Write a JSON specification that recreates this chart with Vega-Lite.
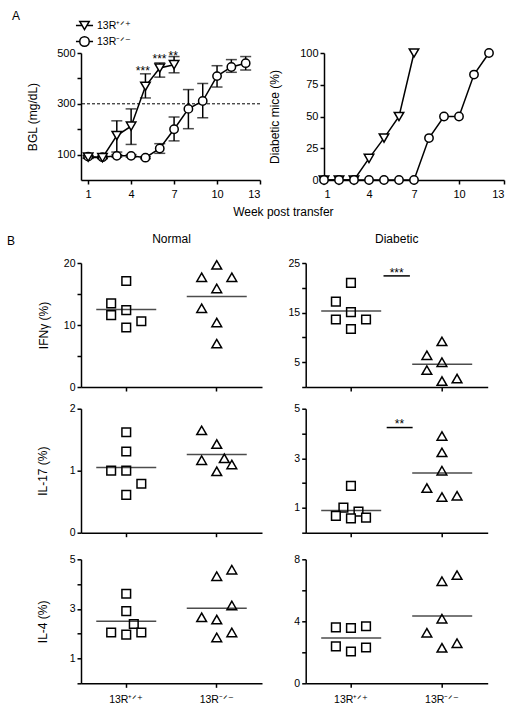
{
 "$schema": "https://vega.github.io/schema/vega-lite/v6.json",
 "background": "white",
 "padding": {"left": 7, "top": 10, "right": 5, "bottom": 5},
 "config": {
  "font": "Liberation Sans",
  "view": {"stroke": null},
  "axis": {"domainColor": "black", "domainWidth": 1.5, "tickColor": "black", "tickWidth": 1.5, "tickSize": 4, "labelColor": "black", "labelFontSize": 10.5, "labelPadding": 2, "labelOverlap": false, "titleColor": "black", "titleFontSize": 12, "titleFontWeight": "normal", "grid": false, "zindex": 0},
  "title": {"fontSize": 12, "fontWeight": "normal", "color": "black"},
  "legend": {"labelColor": "black"}
 },
 "datasets": {
  "bgl": [
   {"strain": "13R⁻ᐟ⁻", "week": 1, "bgl": 92, "lo": 87, "hi": 97},
   {"strain": "13R⁻ᐟ⁻", "week": 2, "bgl": 90, "lo": 86, "hi": 94},
   {"strain": "13R⁻ᐟ⁻", "week": 3, "bgl": 95, "lo": 90, "hi": 100},
   {"strain": "13R⁻ᐟ⁻", "week": 4, "bgl": 95, "lo": 90, "hi": 100},
   {"strain": "13R⁻ᐟ⁻", "week": 5, "bgl": 88, "lo": 84, "hi": 92},
   {"strain": "13R⁻ᐟ⁻", "week": 6, "bgl": 124, "lo": 105, "hi": 143},
   {"strain": "13R⁻ᐟ⁻", "week": 7, "bgl": 200, "lo": 154, "hi": 248},
   {"strain": "13R⁻ᐟ⁻", "week": 8, "bgl": 280, "lo": 202, "hi": 356},
   {"strain": "13R⁻ᐟ⁻", "week": 9, "bgl": 311, "lo": 245, "hi": 380},
   {"strain": "13R⁻ᐟ⁻", "week": 10, "bgl": 409, "lo": 366, "hi": 450},
   {"strain": "13R⁻ᐟ⁻", "week": 11, "bgl": 445, "lo": 424, "hi": 474},
   {"strain": "13R⁻ᐟ⁻", "week": 12, "bgl": 460, "lo": 433, "hi": 486},
   {"strain": "13R⁺ᐟ⁺", "week": 1, "bgl": 90, "lo": 85, "hi": 95},
   {"strain": "13R⁺ᐟ⁺", "week": 2, "bgl": 88, "lo": 84, "hi": 92},
   {"strain": "13R⁺ᐟ⁺", "week": 3, "bgl": 175, "lo": 110, "hi": 233},
   {"strain": "13R⁺ᐟ⁺", "week": 4, "bgl": 212, "lo": 140, "hi": 280},
   {"strain": "13R⁺ᐟ⁺", "week": 5, "bgl": 369, "lo": 323, "hi": 418},
   {"strain": "13R⁺ᐟ⁺", "week": 6, "bgl": 441, "lo": 405, "hi": 461},
   {"strain": "13R⁺ᐟ⁺", "week": 7, "bgl": 454, "lo": 422, "hi": 486}
  ],
  "dm": [
   {"strain": "13R⁺ᐟ⁺", "week": 1, "pct": 0},
   {"strain": "13R⁺ᐟ⁺", "week": 2, "pct": 0},
   {"strain": "13R⁺ᐟ⁺", "week": 3, "pct": 0},
   {"strain": "13R⁺ᐟ⁺", "week": 4, "pct": 17},
   {"strain": "13R⁺ᐟ⁺", "week": 5, "pct": 33},
   {"strain": "13R⁺ᐟ⁺", "week": 6, "pct": 50},
   {"strain": "13R⁺ᐟ⁺", "week": 7, "pct": 100},
   {"strain": "13R⁻ᐟ⁻", "week": 1, "pct": 0},
   {"strain": "13R⁻ᐟ⁻", "week": 2, "pct": 0},
   {"strain": "13R⁻ᐟ⁻", "week": 3, "pct": 0},
   {"strain": "13R⁻ᐟ⁻", "week": 4, "pct": 0},
   {"strain": "13R⁻ᐟ⁻", "week": 5, "pct": 0},
   {"strain": "13R⁻ᐟ⁻", "week": 6, "pct": 0},
   {"strain": "13R⁻ᐟ⁻", "week": 7, "pct": 0},
   {"strain": "13R⁻ᐟ⁻", "week": 8, "pct": 33},
   {"strain": "13R⁻ᐟ⁻", "week": 9, "pct": 50},
   {"strain": "13R⁻ᐟ⁻", "week": 10, "pct": 50},
   {"strain": "13R⁻ᐟ⁻", "week": 11, "pct": 83},
   {"strain": "13R⁻ᐟ⁻", "week": 12, "pct": 100}
  ],
  "starsA": [
   {"week": 4.82, "y": 428, "t": "***"},
   {"week": 5.98, "y": 476, "t": "***"},
   {"week": 6.94, "y": 487, "t": "**"}
  ],
  "cells": [
   {"cyto": "IFNγ", "cond": "Normal", "group": "13R⁺ᐟ⁺", "slot": 0, "value": 17.1},
   {"cyto": "IFNγ", "cond": "Normal", "group": "13R⁺ᐟ⁺", "slot": -2, "value": 13.5},
   {"cyto": "IFNγ", "cond": "Normal", "group": "13R⁺ᐟ⁺", "slot": -2, "value": 11.6},
   {"cyto": "IFNγ", "cond": "Normal", "group": "13R⁺ᐟ⁺", "slot": 0, "value": 12.4},
   {"cyto": "IFNγ", "cond": "Normal", "group": "13R⁺ᐟ⁺", "slot": 0, "value": 9.6},
   {"cyto": "IFNγ", "cond": "Normal", "group": "13R⁺ᐟ⁺", "slot": 2, "value": 10.6},
   {"cyto": "IFNγ", "cond": "Normal", "group": "13R⁻ᐟ⁻", "slot": 0, "value": 19.7},
   {"cyto": "IFNγ", "cond": "Normal", "group": "13R⁻ᐟ⁻", "slot": -2, "value": 17.7},
   {"cyto": "IFNγ", "cond": "Normal", "group": "13R⁻ᐟ⁻", "slot": 2, "value": 17.7},
   {"cyto": "IFNγ", "cond": "Normal", "group": "13R⁻ᐟ⁻", "slot": 0, "value": 15.9},
   {"cyto": "IFNγ", "cond": "Normal", "group": "13R⁻ᐟ⁻", "slot": -2, "value": 12.7},
   {"cyto": "IFNγ", "cond": "Normal", "group": "13R⁻ᐟ⁻", "slot": 0, "value": 10.4},
   {"cyto": "IFNγ", "cond": "Normal", "group": "13R⁻ᐟ⁻", "slot": 0, "value": 7.0},
   {"cyto": "IFNγ", "cond": "Diabetic", "group": "13R⁺ᐟ⁺", "slot": 0, "value": 21.0},
   {"cyto": "IFNγ", "cond": "Diabetic", "group": "13R⁺ᐟ⁺", "slot": -2, "value": 17.2},
   {"cyto": "IFNγ", "cond": "Diabetic", "group": "13R⁺ᐟ⁺", "slot": 0, "value": 15.1},
   {"cyto": "IFNγ", "cond": "Diabetic", "group": "13R⁺ᐟ⁺", "slot": -2, "value": 13.6},
   {"cyto": "IFNγ", "cond": "Diabetic", "group": "13R⁺ᐟ⁺", "slot": 2, "value": 13.6},
   {"cyto": "IFNγ", "cond": "Diabetic", "group": "13R⁺ᐟ⁺", "slot": 0, "value": 11.7},
   {"cyto": "IFNγ", "cond": "Diabetic", "group": "13R⁻ᐟ⁻", "slot": 0, "value": 9.2},
   {"cyto": "IFNγ", "cond": "Diabetic", "group": "13R⁻ᐟ⁻", "slot": -2, "value": 6.4},
   {"cyto": "IFNγ", "cond": "Diabetic", "group": "13R⁻ᐟ⁻", "slot": 0, "value": 5.0},
   {"cyto": "IFNγ", "cond": "Diabetic", "group": "13R⁻ᐟ⁻", "slot": -2, "value": 3.4},
   {"cyto": "IFNγ", "cond": "Diabetic", "group": "13R⁻ᐟ⁻", "slot": 0, "value": 1.2},
   {"cyto": "IFNγ", "cond": "Diabetic", "group": "13R⁻ᐟ⁻", "slot": 2, "value": 1.7},
   {"cyto": "IL-17", "cond": "Normal", "group": "13R⁺ᐟ⁺", "slot": 0, "value": 1.62},
   {"cyto": "IL-17", "cond": "Normal", "group": "13R⁺ᐟ⁺", "slot": 0, "value": 1.31},
   {"cyto": "IL-17", "cond": "Normal", "group": "13R⁺ᐟ⁺", "slot": -2, "value": 1.0},
   {"cyto": "IL-17", "cond": "Normal", "group": "13R⁺ᐟ⁺", "slot": 0, "value": 1.0},
   {"cyto": "IL-17", "cond": "Normal", "group": "13R⁺ᐟ⁺", "slot": 2, "value": 0.79},
   {"cyto": "IL-17", "cond": "Normal", "group": "13R⁺ᐟ⁺", "slot": 0, "value": 0.61},
   {"cyto": "IL-17", "cond": "Normal", "group": "13R⁻ᐟ⁻", "slot": -2, "value": 1.65},
   {"cyto": "IL-17", "cond": "Normal", "group": "13R⁻ᐟ⁻", "slot": 0, "value": 1.43},
   {"cyto": "IL-17", "cond": "Normal", "group": "13R⁻ᐟ⁻", "slot": -2, "value": 1.17},
   {"cyto": "IL-17", "cond": "Normal", "group": "13R⁻ᐟ⁻", "slot": 1, "value": 1.2},
   {"cyto": "IL-17", "cond": "Normal", "group": "13R⁻ᐟ⁻", "slot": 2, "value": 1.1},
   {"cyto": "IL-17", "cond": "Normal", "group": "13R⁻ᐟ⁻", "slot": 0, "value": 0.99},
   {"cyto": "IL-17", "cond": "Diabetic", "group": "13R⁺ᐟ⁺", "slot": 0, "value": 1.89},
   {"cyto": "IL-17", "cond": "Diabetic", "group": "13R⁺ᐟ⁺", "slot": -1, "value": 1.01},
   {"cyto": "IL-17", "cond": "Diabetic", "group": "13R⁺ᐟ⁺", "slot": 1, "value": 0.85},
   {"cyto": "IL-17", "cond": "Diabetic", "group": "13R⁺ᐟ⁺", "slot": -2, "value": 0.68},
   {"cyto": "IL-17", "cond": "Diabetic", "group": "13R⁺ᐟ⁺", "slot": 0, "value": 0.58},
   {"cyto": "IL-17", "cond": "Diabetic", "group": "13R⁺ᐟ⁺", "slot": 2, "value": 0.61},
   {"cyto": "IL-17", "cond": "Diabetic", "group": "13R⁻ᐟ⁻", "slot": 0, "value": 3.9},
   {"cyto": "IL-17", "cond": "Diabetic", "group": "13R⁻ᐟ⁻", "slot": 0, "value": 3.24},
   {"cyto": "IL-17", "cond": "Diabetic", "group": "13R⁻ᐟ⁻", "slot": 0, "value": 2.5},
   {"cyto": "IL-17", "cond": "Diabetic", "group": "13R⁻ᐟ⁻", "slot": -2, "value": 1.8},
   {"cyto": "IL-17", "cond": "Diabetic", "group": "13R⁻ᐟ⁻", "slot": 0, "value": 1.44},
   {"cyto": "IL-17", "cond": "Diabetic", "group": "13R⁻ᐟ⁻", "slot": 2, "value": 1.49},
   {"cyto": "IL-4", "cond": "Normal", "group": "13R⁺ᐟ⁺", "slot": 0, "value": 3.61},
   {"cyto": "IL-4", "cond": "Normal", "group": "13R⁺ᐟ⁺", "slot": 0, "value": 2.91},
   {"cyto": "IL-4", "cond": "Normal", "group": "13R⁺ᐟ⁺", "slot": -2, "value": 2.05},
   {"cyto": "IL-4", "cond": "Normal", "group": "13R⁺ᐟ⁺", "slot": 1, "value": 2.39},
   {"cyto": "IL-4", "cond": "Normal", "group": "13R⁺ᐟ⁺", "slot": 0, "value": 1.96},
   {"cyto": "IL-4", "cond": "Normal", "group": "13R⁺ᐟ⁺", "slot": 2, "value": 2.05},
   {"cyto": "IL-4", "cond": "Normal", "group": "13R⁻ᐟ⁻", "slot": 2, "value": 4.58},
   {"cyto": "IL-4", "cond": "Normal", "group": "13R⁻ᐟ⁻", "slot": 0, "value": 4.32},
   {"cyto": "IL-4", "cond": "Normal", "group": "13R⁻ᐟ⁻", "slot": 2, "value": 3.14},
   {"cyto": "IL-4", "cond": "Normal", "group": "13R⁻ᐟ⁻", "slot": -2, "value": 2.66},
   {"cyto": "IL-4", "cond": "Normal", "group": "13R⁻ᐟ⁻", "slot": 0, "value": 2.57},
   {"cyto": "IL-4", "cond": "Normal", "group": "13R⁻ᐟ⁻", "slot": 2, "value": 2.05},
   {"cyto": "IL-4", "cond": "Normal", "group": "13R⁻ᐟ⁻", "slot": 0, "value": 1.85},
   {"cyto": "IL-4", "cond": "Diabetic", "group": "13R⁺ᐟ⁺", "slot": -2, "value": 3.61},
   {"cyto": "IL-4", "cond": "Diabetic", "group": "13R⁺ᐟ⁺", "slot": 0, "value": 3.57},
   {"cyto": "IL-4", "cond": "Diabetic", "group": "13R⁺ᐟ⁺", "slot": 2, "value": 3.68},
   {"cyto": "IL-4", "cond": "Diabetic", "group": "13R⁺ᐟ⁺", "slot": -2, "value": 2.38},
   {"cyto": "IL-4", "cond": "Diabetic", "group": "13R⁺ᐟ⁺", "slot": 0, "value": 2.05},
   {"cyto": "IL-4", "cond": "Diabetic", "group": "13R⁺ᐟ⁺", "slot": 2, "value": 2.31},
   {"cyto": "IL-4", "cond": "Diabetic", "group": "13R⁻ᐟ⁻", "slot": 2, "value": 6.98},
   {"cyto": "IL-4", "cond": "Diabetic", "group": "13R⁻ᐟ⁻", "slot": 0, "value": 6.59},
   {"cyto": "IL-4", "cond": "Diabetic", "group": "13R⁻ᐟ⁻", "slot": 0, "value": 4.17},
   {"cyto": "IL-4", "cond": "Diabetic", "group": "13R⁻ᐟ⁻", "slot": -2, "value": 3.26},
   {"cyto": "IL-4", "cond": "Diabetic", "group": "13R⁻ᐟ⁻", "slot": 0, "value": 2.29},
   {"cyto": "IL-4", "cond": "Diabetic", "group": "13R⁻ᐟ⁻", "slot": 2, "value": 2.59}
  ],
  "med": [
   {"cyto": "IFNγ", "cond": "Normal", "group": "13R⁺ᐟ⁺", "value": 12.5},
   {"cyto": "IFNγ", "cond": "Normal", "group": "13R⁻ᐟ⁻", "value": 14.6},
   {"cyto": "IFNγ", "cond": "Diabetic", "group": "13R⁺ᐟ⁺", "value": 15.3},
   {"cyto": "IFNγ", "cond": "Diabetic", "group": "13R⁻ᐟ⁻", "value": 4.6},
   {"cyto": "IL-17", "cond": "Normal", "group": "13R⁺ᐟ⁺", "value": 1.05},
   {"cyto": "IL-17", "cond": "Normal", "group": "13R⁻ᐟ⁻", "value": 1.26},
   {"cyto": "IL-17", "cond": "Diabetic", "group": "13R⁺ᐟ⁺", "value": 0.9},
   {"cyto": "IL-17", "cond": "Diabetic", "group": "13R⁻ᐟ⁻", "value": 2.41},
   {"cyto": "IL-4", "cond": "Normal", "group": "13R⁺ᐟ⁺", "value": 2.5},
   {"cyto": "IL-4", "cond": "Normal", "group": "13R⁻ᐟ⁻", "value": 3.03},
   {"cyto": "IL-4", "cond": "Diabetic", "group": "13R⁺ᐟ⁺", "value": 2.92},
   {"cyto": "IL-4", "cond": "Diabetic", "group": "13R⁻ᐟ⁻", "value": 4.35}
  ],
  "sig": [
   {"cyto": "IFNγ", "y": 22.4, "ty": 23.0, "t": "***"},
   {"cyto": "IL-17", "y": 4.24, "ty": 4.4, "t": "**"}
  ]
 },
 "resolve": {"scale": {"shape": "independent", "size": "independent"}, "legend": {"shape": "independent", "size": "independent"}},
 "spacing": 14,
 "vconcat": [
  {
   "bounds": "flush",
   "spacing": 64,
   "resolve": {"scale": {"shape": "independent"}, "legend": {"shape": "independent"}},
   "title": {"text": "Week post transfer", "orient": "bottom", "anchor": "middle", "fontSize": 12, "dx": 25, "offset": 8},
   "hconcat": [
    {
     "width": 179, "height": 127,
     "title": {"text": "A", "anchor": "start", "frame": "group", "dx": -69, "offset": -3, "fontSize": 12},
     "layer": [
      {"data": {"values": [{"thr": 300}]},
       "mark": {"type": "rule", "strokeDash": [3, 2], "strokeWidth": 1, "color": "black"},
       "encoding": {"y": {"field": "thr", "type": "quantitative", "scale": {"domain": [0, 500], "nice": false}, "axis": {"title": "BGL (mg/dL)", "values": [100, 200, 300, 400, 500], "tickCount": 20, "labelExpr": "datum.value % 200 == 100 ? format(datum.value, 'd') : ''", "titlePadding": 17, "labelFontSize": 11}}}},
      {"data": {"name": "bgl"},
       "mark": {"type": "rule", "strokeWidth": 1.5, "color": "black"},
       "encoding": {"x": {"field": "week", "type": "quantitative", "scale": {"domain": [0.5, 13], "nice": false, "zero": false}, "axis": {"values": [1, 4, 7, 10, 13], "tickCount": 20, "labelExpr": "format(datum.value, 'd')", "title": null, "labelFontSize": 11, "labelPadding": 4}}, "y": {"field": "lo", "type": "quantitative"}, "y2": {"field": "hi"}}},
      {"data": {"name": "bgl"},
       "mark": {"type": "tick", "orient": "horizontal", "size": 11, "thickness": 1.5, "color": "black"},
       "encoding": {"x": {"field": "week", "type": "quantitative"}, "y": {"field": "hi", "type": "quantitative"}}},
      {"data": {"name": "bgl"},
       "mark": {"type": "tick", "orient": "horizontal", "size": 11, "thickness": 1.5, "color": "black"},
       "encoding": {"x": {"field": "week", "type": "quantitative"}, "y": {"field": "lo", "type": "quantitative"}}},
      {"data": {"name": "bgl"},
       "mark": {"type": "line", "color": "black", "strokeWidth": 1.5},
       "encoding": {"x": {"field": "week", "type": "quantitative"}, "y": {"field": "bgl", "type": "quantitative"}, "detail": {"field": "strain", "type": "nominal"}}},
      {"data": {"name": "bgl"}, "transform": [{"filter": "datum.strain == '13R⁻ᐟ⁻'"}],
       "mark": {"type": "point", "shape": "circle", "filled": true, "fill": "white", "stroke": "black", "strokeWidth": 1.5, "opacity": 1, "size": 70},
       "encoding": {"x": {"field": "week", "type": "quantitative"}, "y": {"field": "bgl", "type": "quantitative"}}},
      {"data": {"name": "bgl"}, "transform": [{"filter": "datum.strain == '13R⁺ᐟ⁺'"}],
       "mark": {"type": "point", "shape": "triangle-down", "filled": true, "fill": "white", "stroke": "black", "strokeWidth": 1.5, "opacity": 1, "size": 90},
       "encoding": {"x": {"field": "week", "type": "quantitative"}, "y": {"field": "bgl", "type": "quantitative"}}},
      {"data": {"name": "bgl"},
       "mark": {"type": "point", "filled": false, "color": "black", "strokeWidth": 1.5, "opacity": 0},
       "encoding": {
        "x": {"field": "week", "type": "quantitative"},
        "y": {"field": "bgl", "type": "quantitative"},
        "shape": {"field": "strain", "type": "nominal", "sort": null, "scale": {"domain": ["13R⁺ᐟ⁺", "13R⁻ᐟ⁻"], "range": ["M-1,-0.866L1,-0.866L0,0.866Z M-1.8,0L-0.5,0 M0.5,0L1.8,0", "M-1.8,0L-1,0 M1,0L1.8,0 M1,0A1,1,0,1,1,-1,0A1,1,0,1,1,1,0Z"]},
         "legend": {"orient": "none", "legendX": -2, "legendY": -33, "title": null, "labelFontSize": 10.5, "labelOffset": 7, "rowPadding": 0, "padding": 0, "symbolSize": 90, "symbolStrokeWidth": 1.5, "symbolStrokeColor": "black", "symbolFillColor": "white", "symbolOpacity": 1}}
       }},
      {"data": {"name": "starsA"},
       "mark": {"type": "text", "fontSize": 12, "baseline": "middle", "color": "black"},
       "encoding": {"x": {"field": "week", "type": "quantitative"}, "y": {"field": "y", "type": "quantitative"}, "text": {"field": "t"}}}
     ]
    },
    {
     "width": 180, "height": 127,
     "layer": [
      {"data": {"name": "dm"},
       "mark": {"type": "line", "color": "black", "strokeWidth": 1.5},
       "encoding": {"x": {"field": "week", "type": "quantitative", "scale": {"domain": [1, 13], "nice": false, "zero": false}, "axis": {"values": [1, 4, 7, 10, 13], "tickCount": 20, "labelExpr": "format(datum.value, 'd')", "title": null, "labelFontSize": 11, "labelPadding": 4}},
        "y": {"field": "pct", "type": "quantitative", "scale": {"domain": [0, 100], "nice": false}, "axis": {"values": [0, 25, 50, 75, 100], "tickCount": 20, "labelExpr": "format(datum.value, 'd')", "title": "Diabetic mice (%)", "titlePadding": 18, "labelFontSize": 11}},
        "detail": {"field": "strain", "type": "nominal"}}},
      {"data": {"name": "dm"}, "transform": [{"filter": "datum.strain == '13R⁺ᐟ⁺'"}],
       "mark": {"type": "point", "shape": "triangle-down", "filled": true, "fill": "white", "stroke": "black", "strokeWidth": 1.5, "opacity": 1, "size": 90},
       "encoding": {"x": {"field": "week", "type": "quantitative"}, "y": {"field": "pct", "type": "quantitative"}}},
      {"data": {"name": "dm"}, "transform": [{"filter": "datum.strain == '13R⁻ᐟ⁻'"}],
       "mark": {"type": "point", "shape": "circle", "filled": true, "fill": "white", "stroke": "black", "strokeWidth": 1.5, "opacity": 1, "size": 70},
       "encoding": {"x": {"field": "week", "type": "quantitative"}, "y": {"field": "pct", "type": "quantitative"}}}
     ]
    }
   ]
  },
  {
   "title": {"text": "B", "anchor": "start", "frame": "group", "dx": -74, "offset": -15, "fontSize": 12},
   "spacing": 10.7,
   "vconcat": [
    {
     "bounds": "flush",
     "spacing": 43.7,
     "hconcat": [
      {
       "width": 181, "height": 124,
       "title": {"text": "Normal", "offset": 11.7},
       "layer": [
        {"data": {"name": "cells"}, "transform": [{"filter": "datum.cyto == 'IFNγ' && datum.cond == 'Normal'"}],
         "mark": {"type": "point", "filled": true, "fill": "white", "stroke": "black", "strokeWidth": 1.5, "opacity": 1},
         "encoding": {
          "x": {"field": "group", "type": "nominal", "scale": {"type": "band", "domain": ["13R⁺ᐟ⁺", "13R⁻ᐟ⁻"], "paddingInner": 0, "paddingOuter": 0}, "axis": {"title": null, "labels": false}},
          "xOffset": {"field": "slot", "type": "nominal", "scale": {"domain": [-6, -5, -4, -3, -2, -1, 0, 1, 2, 3, 4, 5, 6], "paddingInner": 0, "paddingOuter": 0}},
          "y": {"field": "value", "type": "quantitative", "scale": {"domain": [0, 20], "nice": false}, "axis": {"title": "IFNγ (%)", "values": [0, 5, 10, 15, 20], "tickCount": 20, "labelExpr": "datum.value % 10 == 0 ? format(datum.value, 'd') : ''", "titlePadding": 13.3}},
          "shape": {"field": "group", "type": "nominal", "scale": {"domain": ["13R⁺ᐟ⁺", "13R⁻ᐟ⁻"], "range": ["square", "triangle-up"]}, "legend": null},
          "size": {"field": "group", "type": "ordinal", "scale": {"domain": ["13R⁺ᐟ⁺", "13R⁻ᐟ⁻"], "range": [75, 95]}, "legend": null}
         }},
        {"data": {"name": "med"}, "transform": [{"filter": "datum.cyto == 'IFNγ' && datum.cond == 'Normal'"}],
         "mark": {"type": "tick", "orient": "horizontal", "size": 60, "thickness": 1.5, "color": "black"},
         "encoding": {"x": {"field": "group", "type": "nominal"}, "y": {"field": "value", "type": "quantitative"}}}
       ]
      },
      {
       "width": 182, "height": 124,
       "title": {"text": "Diabetic", "offset": 11.7},
       "layer": [
        {"data": {"name": "cells"}, "transform": [{"filter": "datum.cyto == 'IFNγ' && datum.cond == 'Diabetic'"}],
         "mark": {"type": "point", "filled": true, "fill": "white", "stroke": "black", "strokeWidth": 1.5, "opacity": 1},
         "encoding": {
          "x": {"field": "group", "type": "nominal", "scale": {"type": "band", "domain": ["13R⁺ᐟ⁺", "13R⁻ᐟ⁻"], "paddingInner": 0, "paddingOuter": 0}, "axis": {"title": null, "labels": false}},
          "xOffset": {"field": "slot", "type": "nominal", "scale": {"domain": [-6, -5, -4, -3, -2, -1, 0, 1, 2, 3, 4, 5, 6], "paddingInner": 0, "paddingOuter": 0}},
          "y": {"field": "value", "type": "quantitative", "scale": {"domain": [0, 25], "nice": false}, "axis": {"title": null, "values": [0, 5, 10, 15, 20, 25], "tickCount": 20, "labelExpr": "datum.value % 10 == 5 ? format(datum.value, 'd') : ''"}},
          "shape": {"field": "group", "type": "nominal", "scale": {"domain": ["13R⁺ᐟ⁺", "13R⁻ᐟ⁻"], "range": ["square", "triangle-up"]}, "legend": null},
          "size": {"field": "group", "type": "ordinal", "scale": {"domain": ["13R⁺ᐟ⁺", "13R⁻ᐟ⁻"], "range": [75, 95]}, "legend": null}
         }},
        {"data": {"name": "med"}, "transform": [{"filter": "datum.cyto == 'IFNγ' && datum.cond == 'Diabetic'"}],
         "mark": {"type": "tick", "orient": "horizontal", "size": 60, "thickness": 1.5, "color": "black"},
         "encoding": {"x": {"field": "group", "type": "nominal"}, "y": {"field": "value", "type": "quantitative"}}},
        {"data": {"name": "sig"}, "transform": [{"filter": "datum.cyto == 'IFNγ'"}],
         "mark": {"type": "rule", "strokeWidth": 1.5, "color": "black"},
         "encoding": {"x": {"datum": "13R⁺ᐟ⁺", "type": "nominal", "bandPosition": 0.855}, "x2": {"datum": "13R⁻ᐟ⁻", "bandPosition": 0.145}, "y": {"field": "y", "type": "quantitative"}}},
        {"data": {"name": "sig"}, "transform": [{"filter": "datum.cyto == 'IFNγ'"}],
         "mark": {"type": "text", "fontSize": 12, "baseline": "middle", "color": "black"},
         "encoding": {"x": {"datum": "13R⁻ᐟ⁻", "type": "nominal", "bandPosition": 0}, "y": {"field": "ty", "type": "quantitative"}, "text": {"field": "t"}}}
       ]
      }
     ]
    },
    {
     "spacing": 15.6,
     "vconcat": [
      {
       "bounds": "flush",
       "spacing": 43.7,
       "hconcat": [
        {
         "width": 181, "height": 124,
         "layer": [
          {"data": {"name": "cells"}, "transform": [{"filter": "datum.cyto == 'IL-17' && datum.cond == 'Normal'"}],
           "mark": {"type": "point", "filled": true, "fill": "white", "stroke": "black", "strokeWidth": 1.5, "opacity": 1},
           "encoding": {
            "x": {"field": "group", "type": "nominal", "scale": {"type": "band", "domain": ["13R⁺ᐟ⁺", "13R⁻ᐟ⁻"], "paddingInner": 0, "paddingOuter": 0}, "axis": {"title": null, "labels": false}},
            "xOffset": {"field": "slot", "type": "nominal", "scale": {"domain": [-6, -5, -4, -3, -2, -1, 0, 1, 2, 3, 4, 5, 6], "paddingInner": 0, "paddingOuter": 0}},
            "y": {"field": "value", "type": "quantitative", "scale": {"domain": [0, 2], "nice": false}, "axis": {"title": "IL-17 (%)", "values": [0, 1, 2], "tickCount": 20, "labelExpr": "format(datum.value, 'd')", "titlePadding": 19.2}},
            "shape": {"field": "group", "type": "nominal", "scale": {"domain": ["13R⁺ᐟ⁺", "13R⁻ᐟ⁻"], "range": ["square", "triangle-up"]}, "legend": null},
            "size": {"field": "group", "type": "ordinal", "scale": {"domain": ["13R⁺ᐟ⁺", "13R⁻ᐟ⁻"], "range": [75, 95]}, "legend": null}
           }},
          {"data": {"name": "med"}, "transform": [{"filter": "datum.cyto == 'IL-17' && datum.cond == 'Normal'"}],
           "mark": {"type": "tick", "orient": "horizontal", "size": 60, "thickness": 1.5, "color": "black"},
           "encoding": {"x": {"field": "group", "type": "nominal"}, "y": {"field": "value", "type": "quantitative"}}}
         ]
        },
        {
         "width": 182, "height": 124,
         "layer": [
          {"data": {"name": "cells"}, "transform": [{"filter": "datum.cyto == 'IL-17' && datum.cond == 'Diabetic'"}],
           "mark": {"type": "point", "filled": true, "fill": "white", "stroke": "black", "strokeWidth": 1.5, "opacity": 1},
           "encoding": {
            "x": {"field": "group", "type": "nominal", "scale": {"type": "band", "domain": ["13R⁺ᐟ⁺", "13R⁻ᐟ⁻"], "paddingInner": 0, "paddingOuter": 0}, "axis": {"title": null, "labels": false}},
            "xOffset": {"field": "slot", "type": "nominal", "scale": {"domain": [-6, -5, -4, -3, -2, -1, 0, 1, 2, 3, 4, 5, 6], "paddingInner": 0, "paddingOuter": 0}},
            "y": {"field": "value", "type": "quantitative", "scale": {"domain": [0, 5], "nice": false}, "axis": {"title": null, "values": [0, 1, 2, 3, 4, 5], "tickCount": 20, "labelExpr": "datum.value % 2 == 1 ? format(datum.value, 'd') : ''"}},
            "shape": {"field": "group", "type": "nominal", "scale": {"domain": ["13R⁺ᐟ⁺", "13R⁻ᐟ⁻"], "range": ["square", "triangle-up"]}, "legend": null},
            "size": {"field": "group", "type": "ordinal", "scale": {"domain": ["13R⁺ᐟ⁺", "13R⁻ᐟ⁻"], "range": [75, 95]}, "legend": null}
           }},
          {"data": {"name": "med"}, "transform": [{"filter": "datum.cyto == 'IL-17' && datum.cond == 'Diabetic'"}],
           "mark": {"type": "tick", "orient": "horizontal", "size": 60, "thickness": 1.5, "color": "black"},
           "encoding": {"x": {"field": "group", "type": "nominal"}, "y": {"field": "value", "type": "quantitative"}}},
          {"data": {"name": "sig"}, "transform": [{"filter": "datum.cyto == 'IL-17'"}],
           "mark": {"type": "rule", "strokeWidth": 1.5, "color": "black"},
           "encoding": {"x": {"datum": "13R⁺ᐟ⁺", "type": "nominal", "bandPosition": 0.89}, "x2": {"datum": "13R⁻ᐟ⁻", "bandPosition": 0.175}, "y": {"field": "y", "type": "quantitative"}}},
          {"data": {"name": "sig"}, "transform": [{"filter": "datum.cyto == 'IL-17'"}],
           "mark": {"type": "text", "fontSize": 12, "baseline": "middle", "color": "black"},
           "encoding": {"x": {"datum": "13R⁻ᐟ⁻", "type": "nominal", "bandPosition": 0.03}, "y": {"field": "ty", "type": "quantitative"}, "text": {"field": "t"}}}
         ]
        }
       ]
      },
      {
       "bounds": "flush",
       "spacing": 43.7,
       "hconcat": [
        {
         "width": 181, "height": 124,
         "layer": [
          {"data": {"name": "cells"}, "transform": [{"filter": "datum.cyto == 'IL-4' && datum.cond == 'Normal'"}],
           "mark": {"type": "point", "filled": true, "fill": "white", "stroke": "black", "strokeWidth": 1.5, "opacity": 1},
           "encoding": {
            "x": {"field": "group", "type": "nominal", "scale": {"type": "band", "domain": ["13R⁺ᐟ⁺", "13R⁻ᐟ⁻"], "paddingInner": 0, "paddingOuter": 0}, "axis": {"title": null, "labelAngle": 0, "labelPadding": 7}},
            "xOffset": {"field": "slot", "type": "nominal", "scale": {"domain": [-6, -5, -4, -3, -2, -1, 0, 1, 2, 3, 4, 5, 6], "paddingInner": 0, "paddingOuter": 0}},
            "y": {"field": "value", "type": "quantitative", "scale": {"domain": [0, 5], "nice": false}, "axis": {"title": "IL-4 (%)", "values": [0, 1, 2, 3, 4, 5], "tickCount": 20, "labelExpr": "datum.value % 2 == 1 ? format(datum.value, 'd') : ''", "titlePadding": 19.2}},
            "shape": {"field": "group", "type": "nominal", "scale": {"domain": ["13R⁺ᐟ⁺", "13R⁻ᐟ⁻"], "range": ["square", "triangle-up"]}, "legend": null},
            "size": {"field": "group", "type": "ordinal", "scale": {"domain": ["13R⁺ᐟ⁺", "13R⁻ᐟ⁻"], "range": [75, 95]}, "legend": null}
           }},
          {"data": {"name": "med"}, "transform": [{"filter": "datum.cyto == 'IL-4' && datum.cond == 'Normal'"}],
           "mark": {"type": "tick", "orient": "horizontal", "size": 60, "thickness": 1.5, "color": "black"},
           "encoding": {"x": {"field": "group", "type": "nominal"}, "y": {"field": "value", "type": "quantitative"}}}
         ]
        },
        {
         "width": 182, "height": 124,
         "layer": [
          {"data": {"name": "cells"}, "transform": [{"filter": "datum.cyto == 'IL-4' && datum.cond == 'Diabetic'"}],
           "mark": {"type": "point", "filled": true, "fill": "white", "stroke": "black", "strokeWidth": 1.5, "opacity": 1},
           "encoding": {
            "x": {"field": "group", "type": "nominal", "scale": {"type": "band", "domain": ["13R⁺ᐟ⁺", "13R⁻ᐟ⁻"], "paddingInner": 0, "paddingOuter": 0}, "axis": {"title": null, "labelAngle": 0, "labelPadding": 7}},
            "xOffset": {"field": "slot", "type": "nominal", "scale": {"domain": [-6, -5, -4, -3, -2, -1, 0, 1, 2, 3, 4, 5, 6], "paddingInner": 0, "paddingOuter": 0}},
            "y": {"field": "value", "type": "quantitative", "scale": {"domain": [0, 8], "nice": false}, "axis": {"title": null, "values": [0, 2, 4, 6, 8], "tickCount": 20, "labelExpr": "datum.value % 4 == 0 ? format(datum.value, 'd') : ''"}},
            "shape": {"field": "group", "type": "nominal", "scale": {"domain": ["13R⁺ᐟ⁺", "13R⁻ᐟ⁻"], "range": ["square", "triangle-up"]}, "legend": null},
            "size": {"field": "group", "type": "ordinal", "scale": {"domain": ["13R⁺ᐟ⁺", "13R⁻ᐟ⁻"], "range": [75, 95]}, "legend": null}
           }},
          {"data": {"name": "med"}, "transform": [{"filter": "datum.cyto == 'IL-4' && datum.cond == 'Diabetic'"}],
           "mark": {"type": "tick", "orient": "horizontal", "size": 60, "thickness": 1.5, "color": "black"},
           "encoding": {"x": {"field": "group", "type": "nominal"}, "y": {"field": "value", "type": "quantitative"}}}
         ]
        }
       ]
      }
     ]
    }
   ]
  }
 ]
}
